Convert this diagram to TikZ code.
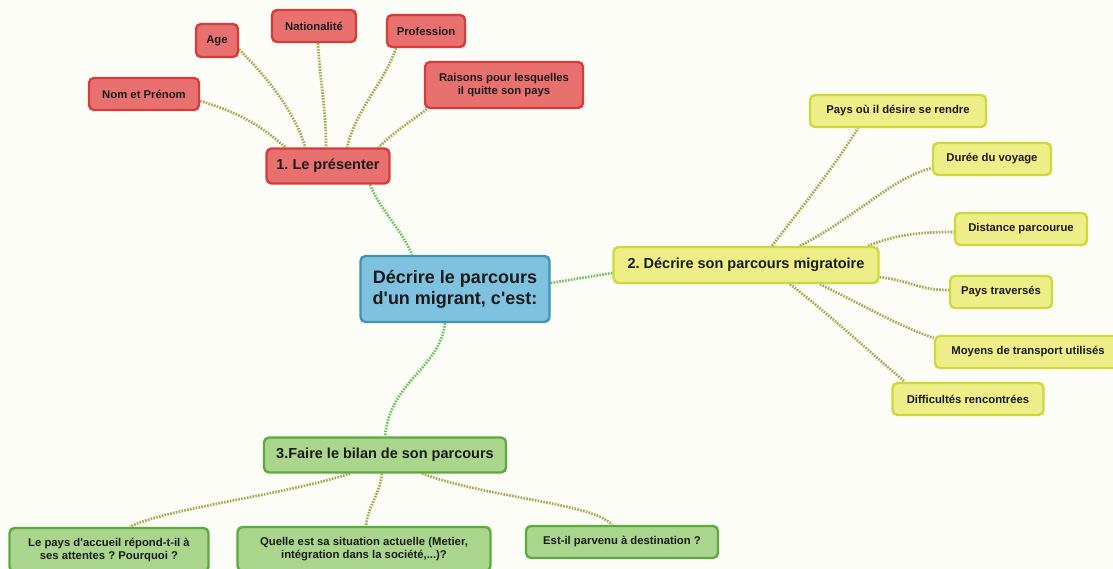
\documentclass[tikz,border=0pt]{standalone}
\usepackage{fontspec}
\setmainfont{Liberation Sans}
\frenchspacing
\definecolor{fond}{HTML}{FDFDF8}
\definecolor{rougeF}{HTML}{E8716F}
\definecolor{rougeB}{HTML}{D63C3A}
\definecolor{bleuF}{HTML}{7EC2DF}
\definecolor{bleuB}{HTML}{3D94B4}
\definecolor{jauneF}{HTML}{EEEE88}
\definecolor{jauneB}{HTML}{CCD83C}
\definecolor{vertF}{HTML}{A9D68C}
\definecolor{vertB}{HTML}{5DAA3E}
\definecolor{lienV}{HTML}{6CC05A}
\definecolor{lienO}{HTML}{A7A650}
\definecolor{texte}{HTML}{1A1A1A}
\pgfdeclarelayer{fondcalque}
\pgfdeclarelayer{liens}
\pgfsetlayers{fondcalque,liens,main}
\tikzset{
  boite/.style={draw, line width=2.4pt, rounded corners=5pt, inner sep=0pt,
    align=center, text=texte, font=\bfseries},
  rouge/.style={boite, fill=rougeF, draw=rougeB},
  jaune/.style={boite, fill=jauneF, draw=jauneB},
  vert/.style={boite, fill=vertF, draw=vertB},
  feuille/.style={font=\bfseries\fontsize{11.3}{13.5}\selectfont, minimum height=32pt},
  branche/.style={font=\bfseries\fontsize{14.5}{17}\selectfont, minimum height=35pt},
  lien/.style={line width=2.7pt, dash pattern=on 1.6pt off 1.3pt, lienO},
  lienc/.style={line width=2.7pt, dash pattern=on 1.6pt off 1.3pt, lienV}
}
\begin{document}
\begin{tikzpicture}[x=1pt, y=-1pt]
  % fond
  \begin{pgfonlayer}{fondcalque}
    \fill[fond] (0,0) rectangle (1113,569);
  \end{pgfonlayer}
  \useasboundingbox (0,0) rectangle (1113,569);
  \clip (0,0) rectangle (1113,569);

  % centre
  \node[boite, fill=bleuF, draw=bleuB, minimum width=189pt, minimum height=66pt,
    font=\bfseries\fontsize{18}{21}\selectfont] (centre) at (455,289)
    {D\'ecrire le parcours\\d\textquotesingle un migrant, c\textquotesingle est:};

  % 1. le presenter
  \node[rouge, branche, minimum width=123pt] (pres) at (328,166) {1. Le pr\'esenter};
  \node[rouge, feuille, minimum width=110pt] (nom) at (144,94) {Nom et Pr\'enom};
  \node[rouge, feuille, minimum width=42pt, minimum height=33pt] (agee) at (217,40.5) {Age};
  \node[rouge, feuille, minimum width=84pt] (natio) at (314,26) {Nationalit\'e};
  \node[rouge, feuille, minimum width=78pt] (prof) at (426,31) {Profession};
  \node[rouge, feuille, minimum width=158pt, minimum height=46pt] (raisons) at (504,85)
    {Raisons pour lesquelles\\il quitte son pays};

  % 2. parcours migratoire
  \node[jaune, branche, minimum width=265pt, minimum height=36pt] (migr) at (746,265)
    {2. D\'ecrire son parcours migratoire};
  \node[jaune, feuille, minimum width=176pt] (paysou) at (898,111) {Pays o\`u il d\'esire se rendre};
  \node[jaune, feuille, minimum width=118pt] (duree) at (992,159) {Dur\'ee du voyage};
  \node[jaune, feuille, minimum width=132pt] (distance) at (1021,229) {Distance parcourue};
  \node[jaune, feuille, minimum width=102pt] (traverses) at (1001,292) {Pays travers\'es};
  \node[jaune, feuille, minimum width=186pt] (moyens) at (1028,352) {Moyens de transport utilis\'es};
  \node[jaune, feuille, minimum width=151pt] (diff) at (968,399) {Difficult\'es rencontr\'ees};

  % 3. bilan
  \node[vert, branche, minimum width=242pt] (bilan) at (385,455) {3.Faire le bilan de son parcours};
  \node[vert, feuille, minimum width=199pt, minimum height=44pt] (accueil) at (109,550)
    {Le pays d\textquotesingle accueil r\'epond-t-il \`a\\ses attentes ? Pourquoi ?};
  \node[vert, feuille, minimum width=253pt, minimum height=44pt] (quelle) at (364,549)
    {Quelle est sa situation actuelle (Metier,\\int\'egration dans la soci\'et\'e,...)?};
  \node[vert, feuille, minimum width=192pt] (estil) at (622,542) {Est-il parvenu \`a destination ?};

  \begin{pgfonlayer}{liens}
  % liens du centre
  \draw[lienc] ([xshift=42pt]pres.south) .. controls +(10,25) and +(-10,-25) .. ([xshift=-43pt]centre.north);
  \draw[lienc] ([yshift=6pt]centre.east) -- ([yshift=-8pt]migr.west);
  \draw[lienc] ([xshift=-10pt]centre.south) .. controls +(-5,45) and +(5,-55) .. (bilan.north);

  % liens 1
  \draw[lien] ([yshift=-7pt]nom.east) .. controls +(40,12) and +(-25,-22) .. ([xshift=20pt]pres.north west);
  \draw[lien] ([yshift=-9pt]agee.east) .. controls +(22,22) and +(-12,-40) .. ([xshift=40pt]pres.north west);
  \draw[lien] ([xshift=4pt]natio.south) .. controls +(2,40) and +(0,-40) .. ([xshift=-2pt]pres.north);
  \draw[lien] ([xshift=-30pt]prof.south) .. controls +(-12,35) and +(10,-40) .. ([xshift=19pt]pres.north);
  \draw[lien] ([xshift=3pt]raisons.south west) .. controls +(-20,15) and +(15,-15) .. ([xshift=-12pt]pres.north east);

  % liens 2
  \draw[lien] ([xshift=26pt]migr.north) .. controls +(35,-45) and +(-25,40) .. ([xshift=-40pt]paysou.south);
  \draw[lien] ([xshift=54pt]migr.north) .. controls +(55,-28) and +(-40,10) .. ([yshift=-9pt]duree.west);
  \draw[lien] ([xshift=122pt]migr.north) .. controls +(30,-12) and +(-30,0) .. ([yshift=-3pt]distance.west);
  \draw[lien] ([yshift=-12pt]migr.east) .. controls +(35,5) and +(-30,0) .. ([yshift=2pt]traverses.west);
  \draw[lien] ([xshift=74pt]migr.south) .. controls +(45,22) and +(-35,-12) .. ([yshift=14pt]moyens.west);
  \draw[lien] ([xshift=44pt]migr.south) .. controls +(45,35) and +(-30,-25) .. ([xshift=-63pt]diff.north);

  % liens 3
  \draw[lien] ([xshift=-35pt]bilan.south) .. controls +(-70,22) and +(35,-18) .. ([xshift=21pt]accueil.north);
  \draw[lien] ([xshift=-3pt]bilan.south) .. controls +(-2,20) and +(2,-20) .. ([xshift=2pt]quelle.north);
  \draw[lien] ([xshift=37pt]bilan.south) .. controls +(70,25) and +(-20,-22) .. ([xshift=-10pt]estil.north);
  \end{pgfonlayer}
\end{tikzpicture}
\end{document}
